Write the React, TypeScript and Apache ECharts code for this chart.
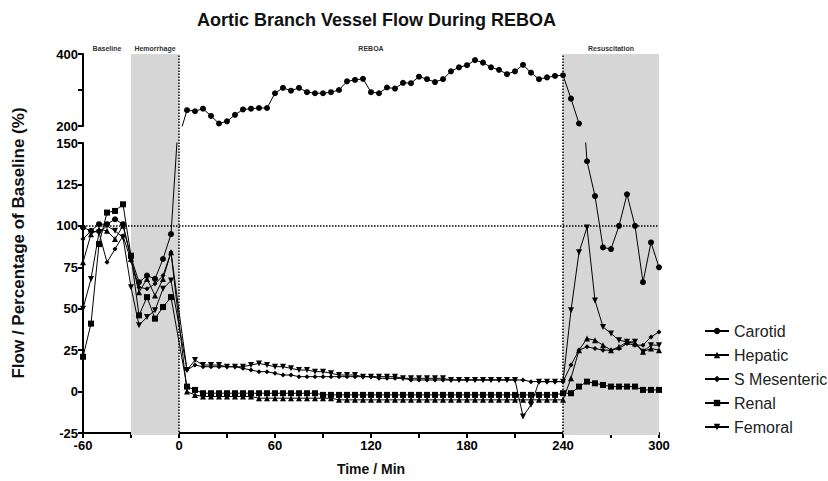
import React, { useEffect, useRef } from "react";
import * as echarts from "echarts";

const times = [-60,-55,-50,-45,-40,-35,-30,-25,-20,-15,-10,-5,5,10,15,20,25,30,35,40,45,50,55,60,65,70,75,80,85,90,95,100,105,110,115,120,125,130,135,140,145,150,155,160,165,170,175,180,185,190,195,200,205,210,215,220,225,230,235,240,245,250,255,260,265,270,275,280,285,290,295,300];

const carotid = [99,97,101,101,104,101,81,66,70,68,80,95,
  244,241,248,228,207,213,231,246,248,250,250,291,
  306,298,306,294,291,291,294,300,324,328,331,294,
  291,307,304,320,319,337,330,322,330,352,363,369,
  383,376,363,356,344,352,370,348,330,335,339,341,
  276,207,139,118,87,86,100,119,100,66,90,75];

const hepatic = [78,95,98,97,92,100,80,60,68,58,68,84,
  0,-2,-3,-3,-3,-3,-3,-3,-3,-4,-4,-4,
  -4,-4,-4,-4,-4,-4,-4,-5,-5,-5,-5,-5,
  -5,-5,-5,-5,-5,-5,-5,-5,-5,-5,-5,-5,
  -5,-5,-5,-5,-5,-5,-5,-5,-5,-5,-5,-5,
  8,25,32,31,28,25,27,30,29,24,26,25];

const sMesenteric = [92,97,96,78,86,94,79,63,62,65,70,84,
  13,16,15,15,15,15,15,14,13,12,12,11,
  10,10,9,9,9,9,9,9,9,9,9,9,
  8,8,8,8,7,7,7,7,7,7,7,7,
  7,7,7,7,7,7,7,6,6,6,6,6,
  16,25,27,26,25,25,26,29,28,28,33,36];

const renal = [21,41,89,108,109,113,82,46,57,44,51,57,
  3,1,-1,-1,-1,-1,-1,-1,-1,-1,-1,-1,
  -1,-1,-1,-1,-1,-2,-2,-2,-2,-2,-2,-2,
  -2,-2,-2,-2,-2,-2,-2,-2,-2,-2,-2,-2,
  -2,-2,-2,-2,-2,-2,-2,-2,-2,-2,-2,-1,
  -1,3,6,5,4,3,3,3,3,1,1,1];

const femoral = [50,68,96,100,97,93,63,40,45,49,62,67,
  13,19,16,16,16,15,15,15,16,17,16,15,
  15,14,13,13,12,12,11,10,10,10,9,9,
  9,9,9,8,8,8,8,8,8,7,7,7,
  7,7,7,7,7,7,-15,-8,6,6,6,6,
  49,84,99,55,39,35,31,30,30,24,28,28];

const phaseNames = ["Baseline", "Hemorrhage", "REBOA", "Resuscitation"];
const phaseStarts = [-60, -30, 0, 240];
const phaseEnds = [-30, 0, 240, 300];
const phaseShaded = [false, true, false, true];
const markerLines = [0, 240];
const referenceLevel = 100;

const FONT = "Arial, 'Liberation Sans', Helvetica, sans-serif";

export default function App() {
  const ref = useRef<HTMLDivElement>(null);
  useEffect(() => {
    if (!ref.current) return;
    const chart = echarts.init(ref.current, undefined, { renderer: "svg" });
    const pts = (vals: number[]) => times.map((t, i) => [t, vals[i]]);
    const invTri = "path://M0,0L10,0L5,9Z";
    const seriesDefs = [
      { name: "Carotid", vals: carotid, symbol: "circle", size: 6 },
      { name: "Hepatic", vals: hepatic, symbol: "triangle", size: 6 },
      { name: "S Mesenteric", vals: sMesenteric, symbol: "diamond", size: 5 },
      { name: "Renal", vals: renal, symbol: "rect", size: 6 },
      { name: "Femoral", vals: femoral, symbol: invTri, size: 6 },
    ];
    const lineStyle = { color: "#000", width: 1 };
    const bottomSeries: any[] = seriesDefs.map((d, i) => ({
      name: d.name,
      type: "line",
      xAxisIndex: 2,
      yAxisIndex: 2,
      data: pts(d.vals),
      symbol: d.symbol,
      symbolSize: d.size,
      showAllSymbol: true,
      clip: true,
      lineStyle,
      itemStyle: { color: "#000" },
      z: 5,
      markLine: i === 0 ? {
        silent: true,
        symbol: "none",
        label: { show: false },
        lineStyle: { color: "#000", type: "dotted", width: 1.5 },
        data: [{ yAxis: referenceLevel }],
      } : undefined,
    }));
    const topCarotid = {
      name: "Carotid",
      type: "line",
      xAxisIndex: 1,
      yAxisIndex: 1,
      data: pts(carotid),
      symbol: "circle",
      symbolSize: 6,
      showAllSymbol: true,
      clip: true,
      lineStyle,
      itemStyle: { color: "#000" },
      z: 5,
    };
    const background = {
      type: "line",
      xAxisIndex: 0,
      yAxisIndex: 0,
      data: [],
      silent: true,
      z: 1,
      markArea: {
        silent: true,
        label: {
          show: true,
          position: "top",
          distance: 2,
          fontSize: 7,
          fontWeight: "bold",
          color: "#333",
          fontFamily: FONT,
        },
        data: phaseNames.map((n, i) => [
          { name: n, xAxis: phaseStarts[i], itemStyle: { color: phaseShaded[i] ? "#d6d6d6" : "rgba(0,0,0,0)" } },
          { xAxis: phaseEnds[i] },
        ]),
      },
      markLine: {
        silent: true,
        symbol: "none",
        label: { show: false },
        lineStyle: { color: "#000", type: "dotted", width: 1.5 },
        data: markerLines.map((x) => ({ xAxis: x })),
      },
    };
    const axisLabelStyle = { color: "#000", fontWeight: "bold", fontSize: 13, fontFamily: FONT };
    chart.setOption({
      animation: false,
      backgroundColor: "#fff",
      title: {
        text: "Aortic Branch Vessel Flow During REBOA",
        left: 192,
        top: 6,
        textStyle: { fontSize: 18, fontWeight: "bold", color: "#111", fontFamily: FONT },
      },
      legend: {
        orient: "vertical",
        left: 699,
        top: 317,
        itemWidth: 24,
        itemHeight: 8,
        itemGap: 6,
        data: seriesDefs.map((d) => d.name),
        textStyle: { fontSize: 16, color: "#222", fontFamily: FONT, lineHeight: 18 },
      },
      grid: [
        { left: 83, right: 169, top: 54, bottom: 46 },
        { left: 83, right: 169, top: 54, height: 72 },
        { left: 83, right: 169, top: 143, bottom: 46 },
      ],
      xAxis: [
        { type: "value", gridIndex: 0, min: -60, max: 300, show: false },
        { type: "value", gridIndex: 1, min: -60, max: 300, show: false },
        {
          type: "value",
          gridIndex: 2,
          min: -60,
          max: 300,
          interval: 30,
          name: "Time / Min",
          nameLocation: "middle",
          nameGap: 29,
          nameTextStyle: { fontSize: 14, fontWeight: "bold", color: "#111", fontFamily: FONT },
          axisLine: { onZero: false, lineStyle: { color: "#000", width: 2 } },
          axisTick: { length: 5, lineStyle: { color: "#000", width: 2 } },
          axisLabel: { ...axisLabelStyle, margin: 6, formatter: (v: number) => (v % 60 === 0 ? String(v) : "") },
          splitLine: { show: false },
        },
      ],
      yAxis: [
        { type: "value", gridIndex: 0, min: 0, max: 1, show: false },
        {
          type: "value",
          gridIndex: 1,
          min: 200,
          max: 400,
          interval: 100,
          axisLine: { show: true, onZero: false, lineStyle: { color: "#000", width: 2 } },
          axisTick: { show: true, length: 5, lineStyle: { color: "#000", width: 2 } },
          axisLabel: { ...axisLabelStyle, margin: 5, formatter: (v: number) => (v === 300 ? "" : String(v)) },
          splitLine: { show: false },
        },
        {
          type: "value",
          gridIndex: 2,
          min: -25,
          max: 150,
          interval: 25,
          axisLine: { show: true, onZero: false, lineStyle: { color: "#000", width: 2 } },
          axisTick: { show: true, length: 5, lineStyle: { color: "#000", width: 2 } },
          axisLabel: { ...axisLabelStyle, margin: 5 },
          splitLine: { show: false },
        },
      ],
      graphic: [
        {
          type: "text",
          x: 18,
          y: 243,
          rotation: Math.PI / 2,
          style: {
            text: "Flow / Percentage of Baseline (%)",
            textAlign: "center",
            textVerticalAlign: "middle",
            fontSize: 17,
            fontWeight: "bold",
            fill: "#111",
            fontFamily: FONT,
          },
        },
      ],
      series: [background, topCarotid, ...bottomSeries],
    });
    return () => chart.dispose();
  }, []);
  return <div ref={ref} style={{ position: "fixed", left: 0, top: 0, width: 828, height: 481 }} />;
}
